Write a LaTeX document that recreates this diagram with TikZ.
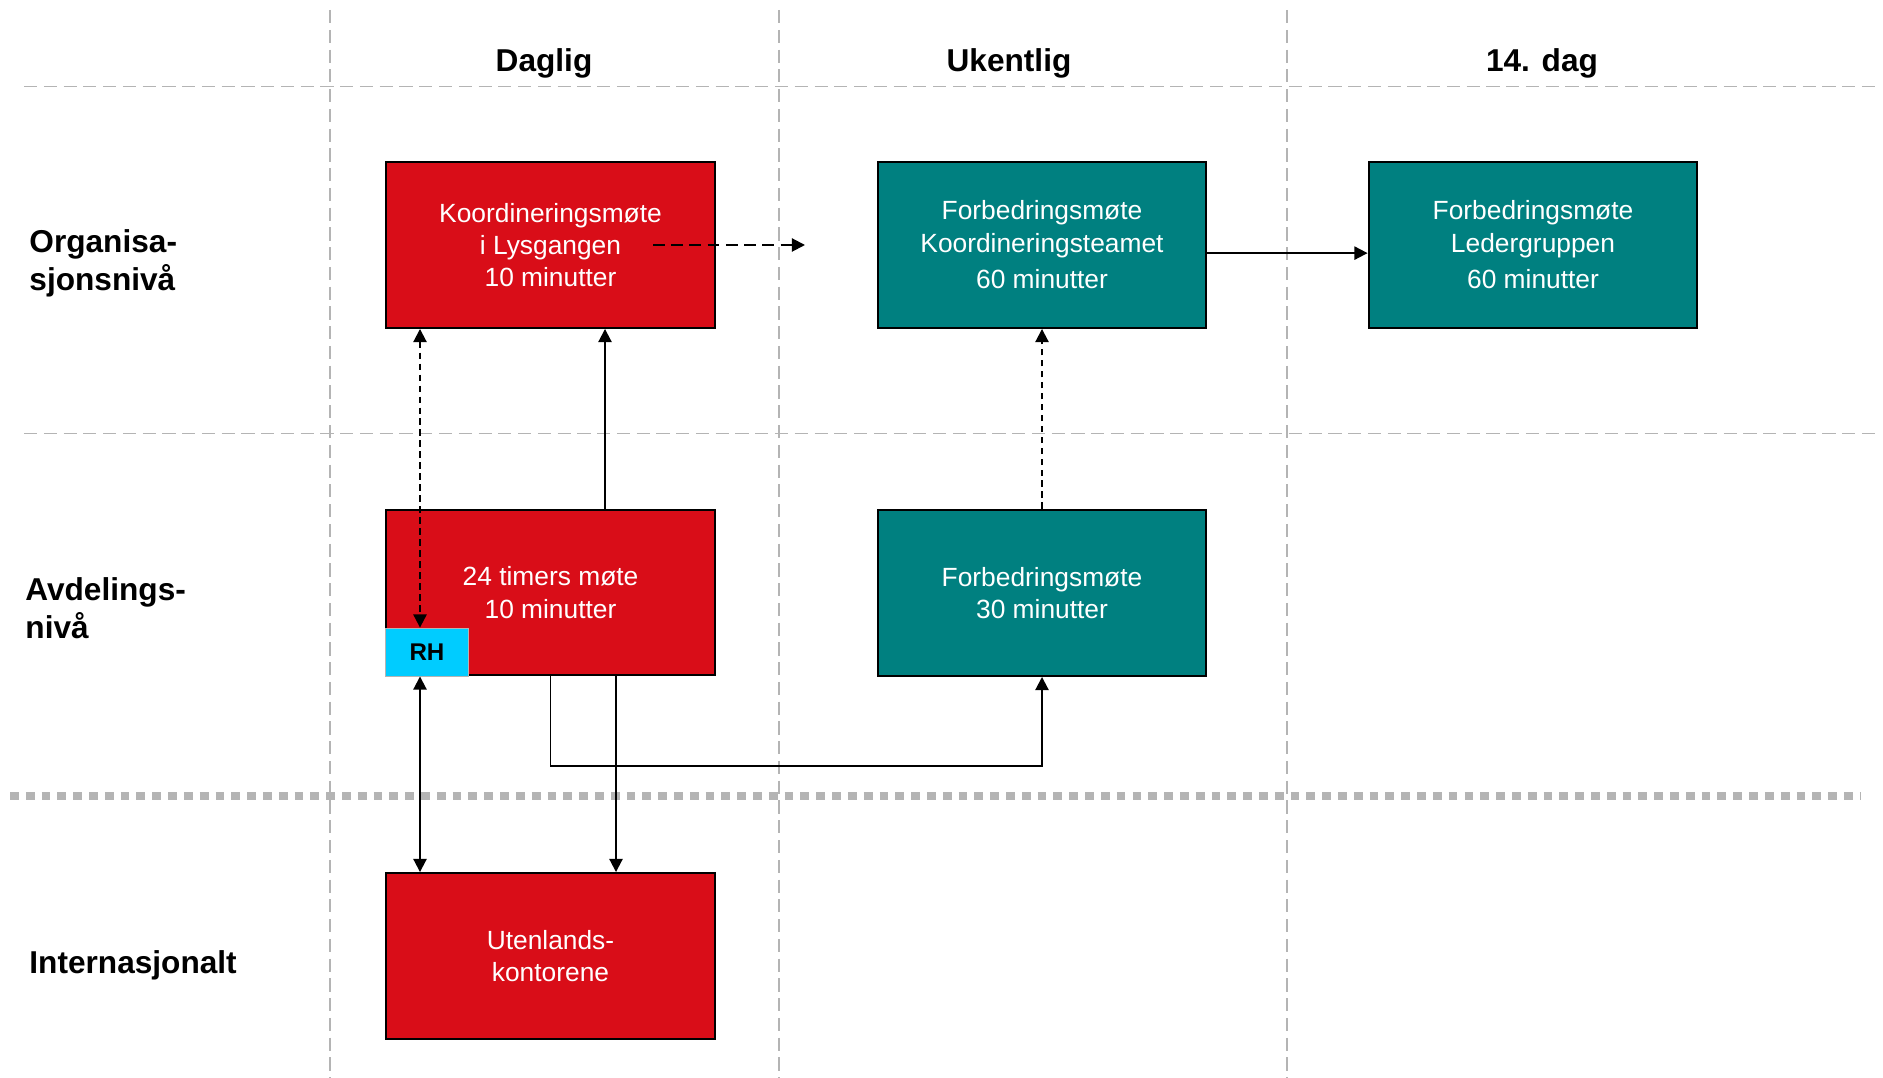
\documentclass[tikz,border=0pt]{standalone}
\usepackage{fontspec}
\setmainfont{Liberation Sans}
\usetikzlibrary{arrows.meta}

\definecolor{mred}{HTML}{D90D18}
\definecolor{mteal}{HTML}{008080}
\definecolor{mcyan}{HTML}{00CCFF}
\definecolor{mgrid}{HTML}{B4B4B4}

\begin{document}
\begin{tikzpicture}[x=0.016cm,y=-0.016cm,>={Triangle[length=6pt,width=6pt]},
   box/.style={draw=black,line width=0.9pt,minimum width=5.264cm,minimum height=2.656cm,
     inner sep=0pt,align=center,text=white,font=\fontsize{12}{14.7}\selectfont},
   redbox/.style={box,fill=mred},
   tealbox/.style={box,fill=mteal},
   head/.style={font=\fontsize{14.4}{17.3}\selectfont\bfseries},
   rowlabel/.style={head,anchor=west,align=left,inner sep=0pt},
   gridline/.style={mgrid,line width=0.9pt,dash pattern=on 6pt off 3pt},
   conn/.style={line width=0.9pt}]
   \useasboundingbox (0,0) rectangle (1883,1078);
   % raster
   \foreach \x in {330,779,1287}
     \draw[gridline] (\x,10) -- (\x,1078);
   \foreach \y in {86.5,433.5}
     \draw[gridline] (24,\y) -- (1877,\y);
   \draw[mgrid,line width=3.6pt,dash pattern=on 4pt off 3.2pt] (10,796) -- (1860,796);
   % overskrifter
   \node[head] (daglig) at (544,63) {Daglig};
   \node[head] (ukentlig) at (1009,63) {Ukentlig};
   \node[head] (dag14) at (1542,63) {14. dag};
   \node[rowlabel] (org) at (29,263) {Organisa-\\sjonsnivå};
   \node[rowlabel] (avdniva) at (25,608) {Avdelings-\\nivå};
   \node[rowlabel] (intl) at (29,965) {Internasjonalt};
   % moter
   \node[redbox] (koord) at (550.5,245) {Koordineringsmøte\\i Lysgangen\\10 minutter};
   \node[redbox] (avd) at (550.5,592.5) {24 timers møte\\10 minutter};
   \node[redbox] (uten) at (550.5,956) {Utenlands-\\kontorene};
   \node[tealbox] (kt) at (1042,245) {Forbedringsmøte\\Koordineringsteamet\\[2pt]60 minutter};
   \node[tealbox] (forb) at (1042,593) {Forbedringsmøte\\30 minutter};
   \node[tealbox] (leder) at (1533,245) {Forbedringsmøte\\Ledergruppen\\[2pt]60 minutter};
   \node[fill=mcyan,draw=mgrid,line width=0.4pt,anchor=south west,minimum width=1.328cm,
     minimum height=0.768cm,inner sep=0pt,font=\fontsize{11}{13}\selectfont\bfseries]
     (rh) at (avd.south west) {RH};
   % piler
   \coordinate (rhx) at (420,0);
   \coordinate (upx) at (605,0);
   \coordinate (downx) at (616,0);
   \coordinate (dstart) at (653,245);
   \coordinate (dend) at (805,245);
   \draw[conn,<->,dash pattern=on 3pt off 2pt] (koord.south -| rhx) -- (rh.north -| rhx);
   \draw[conn,->] (avd.north -| upx) -- (koord.south -| upx);
   \draw[conn,->,dash pattern=on 5.3pt off 3pt] (dstart) -- (dend);
   \draw[conn,->,dash pattern=on 3pt off 2pt] (forb.north) -- (kt.south);
   \draw[conn,->] ([yshift=-1.3mm]kt.east) -- ([yshift=-1.3mm]leder.west);
   \draw[conn,<->] (rh.south -| rhx) -- (uten.north -| rhx);
   \draw[conn,->] (avd.south -| downx) -- (uten.north -| downx);
   \draw[conn,->] (avd.south) -- ++(0,90) -| (forb.south);
\end{tikzpicture}
\end{document}
